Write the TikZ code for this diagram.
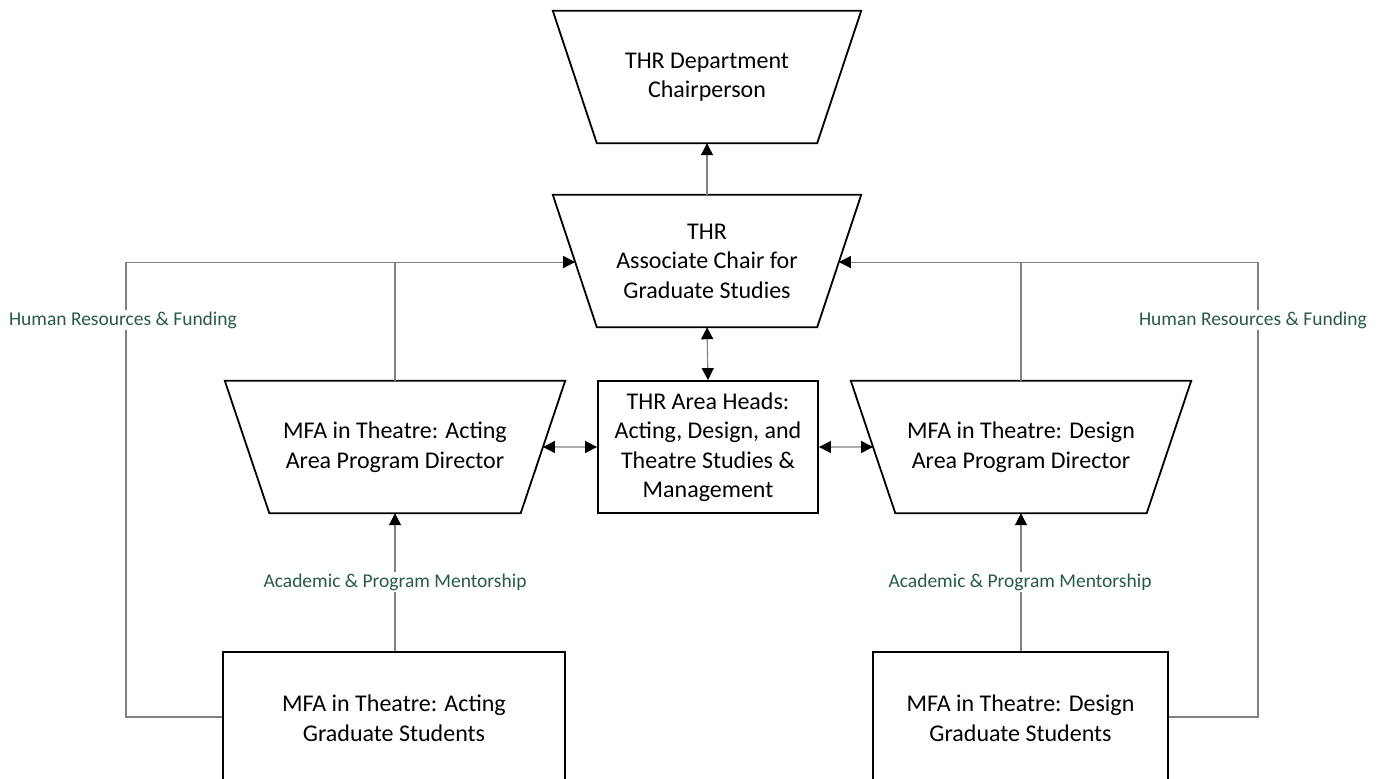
\documentclass[tikz,border=0pt]{standalone}
\usepackage{fontspec}
\setmainfont{Carlito}
\usetikzlibrary{arrows.meta,calc}
\definecolor{lblgreen}{RGB}{40,90,75}
\definecolor{conngray}{RGB}{128,128,128}
\newcommand\trapz[2]{\draw[shapeline] (#1.north west) -- (#1.north east) -- ([xshift=-#2]#1.south east) -- ([xshift=#2]#1.south west) -- cycle;}
\begin{document}
\begin{tikzpicture}[x=1pt,y=-1pt,
  shapeline/.style={draw=black,line width=1.8pt,line join=miter},
  boxtext/.style={inner sep=0pt,align=center,font=\fontsize{24}{29.5}\selectfont},
  rectbox/.style={boxtext,draw=black,line width=1.8pt},
  conn/.style={draw=conngray,line width=1.1pt},
  tip/.style={-{Triangle[length=12pt,width=12pt,color=black]}},
  dtip/.style={{Triangle[length=12pt,width=12pt,color=black]}-{Triangle[length=12pt,width=12pt,color=black]}},
  lbl/.style={fill=white,text=lblgreen,inner sep=2pt,font=\fontsize{19.5}{22}\selectfont}]
\useasboundingbox (0,0) rectangle (1382,779);

% shapes
\node[boxtext,minimum width=308pt,minimum height=132pt] (chair) at (707,77) {THR Department\\Chairperson};
\trapz{chair}{44pt}
\node[boxtext,minimum width=308pt,minimum height=132pt] (assoc) at (707,261) {THR\\Associate Chair for\\Graduate Studies};
\trapz{assoc}{44pt}
\node[rectbox,minimum width=220pt,minimum height=132pt] (heads) at (708,447) {THR Area Heads:\\Acting, Design, and\\Theatre Studies \&\\Management};
\node[boxtext,minimum width=340pt,minimum height=132pt] (lpd) at (395,447) {MFA in Theatre: Acting\\Area Program Director};
\trapz{lpd}{44.5pt}
\node[boxtext,minimum width=340pt,minimum height=132pt] (rpd) at (1021,447) {MFA in Theatre: Design\\Area Program Director};
\trapz{rpd}{44.5pt}
\node[rectbox,minimum width=342pt,minimum height=132pt] (lgs) at (394,718) {MFA in Theatre: Acting\\Graduate Students};
\node[rectbox,minimum width=295pt,minimum height=132pt] (rgs) at (1020.5,718) {MFA in Theatre: Design\\Graduate Students};

% side points of slanted edges
\coordinate (assocL) at ($(assoc.north west)!0.508!([xshift=44pt]assoc.south west)$);
\coordinate (assocR) at ($(assoc.north east)!0.508!([xshift=-44pt]assoc.south east)$);
\coordinate (lpdR) at ($(lpd.north east)!0.5!([xshift=-44.5pt]lpd.south east)$);
\coordinate (rpdL) at ($(rpd.north west)!0.5!([xshift=44.5pt]rpd.south west)$);
\coordinate (outL) at (126,717);
\coordinate (outR) at (1258,717);

% connectors
\draw[conn,tip] (assoc.north) -- (chair.south);
\draw[conn,dtip] (assoc.south) -- (heads.north);
\draw[conn,dtip] (lpdR) -- (heads.west);
\draw[conn,dtip] (heads.east) -- (rpdL);
\draw[conn,tip] (lgs.north -| lpd.south) -- (lpd.south);
\draw[conn,tip] (rgs.north -| rpd.south) -- (rpd.south);
\draw[conn,tip] (lpd.north) |- (assocL);
\draw[conn,tip] (rpd.north) |- (assocR);
\draw[conn] (lgs.west |- outL) -- (outL) |- (lpd.north |- assocL);
\draw[conn] (rgs.east |- outR) -- (outR) |- (rpd.north |- assocR);

% labels
\node[lbl] (hrL) at (123,320) {Human Resources \& Funding};
\node[lbl] (hrR) at (1253,320) {Human Resources \& Funding};
\node[lbl] (amL) at (395,582) {Academic \& Program Mentorship};
\node[lbl] (amR) at (1020,582) {Academic \& Program Mentorship};
\end{tikzpicture}
\end{document}
